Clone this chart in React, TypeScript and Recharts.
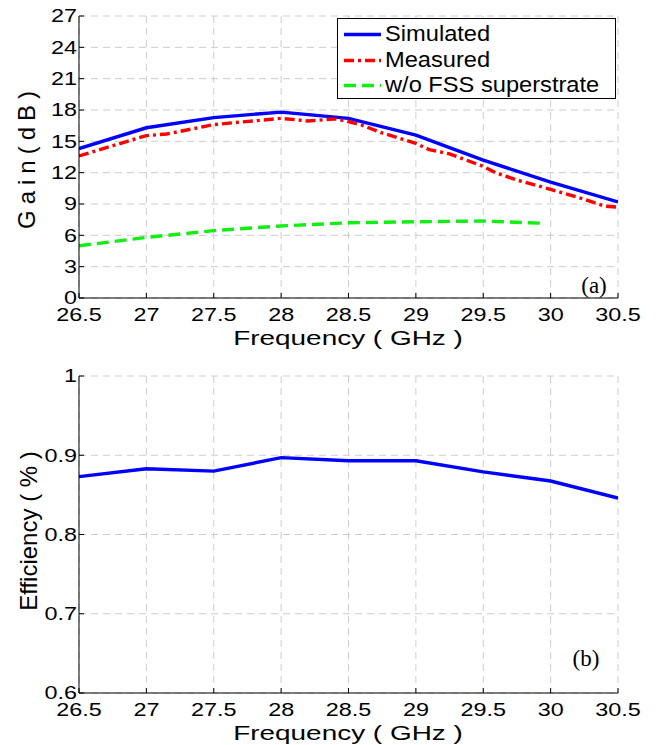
import { CartesianGrid, Line, LineChart, XAxis, YAxis } from "recharts";

const FONT = '"Liberation Sans", Arial, Helvetica, sans-serif';
const SERIF = '"Liberation Serif", "Times New Roman", serif';
const STRETCH = 1.3; // the source figure is stretched sideways

// shared x axis
const freqTicks = [26.5, 27, 27.5, 28, 28.5, 29, 29.5, 30, 30.5];

// (a) gain
const gainTicks = [0, 3, 6, 9, 12, 15, 18, 21, 24, 27];
const simulatedGain = [14.3, 16.3, 17.27, 17.8, 17.2, 15.6, 13.2, 11.1, 9.2];
const measuredFreqs = [
  26.5, 27, 27.15, 27.5, 28, 28.2, 28.4, 28.5, 28.6, 28.75, 28.9, 29, 29.1,
  29.25, 29.5, 29.6, 29.75, 30, 30.25, 30.4, 30.5,
];
const measuredGain = [
  13.6, 15.55, 15.7, 16.6, 17.2, 16.95, 17.15, 16.9, 16.55, 15.8, 15.2, 14.8,
  14.2, 13.8, 12.6, 11.95, 11.3, 10.4, 9.45, 8.8, 8.7,
];
const noFssFreqs = [26.5, 27, 27.5, 28, 28.5, 29, 29.5, 29.95];
const noFssGain = [5.0, 5.8, 6.45, 6.9, 7.2, 7.3, 7.37, 7.15];

// (b) efficiency
const effTicks = [0.6, 0.7, 0.8, 0.9, 1];
const efficiency = [0.873, 0.883, 0.88, 0.897, 0.893, 0.893, 0.879, 0.8675, 0.846];

const simData = freqTicks.map((f, i) => ({ f, v: simulatedGain[i] }));
const measData = measuredFreqs.map((f, i) => ({ f, v: measuredGain[i] }));
const noFssData = noFssFreqs.map((f, i) => ({ f, v: noFssGain[i] }));
const effData = freqTicks.map((f, i) => ({ f, v: efficiency[i] }));

function XTick(props: any) {
  const { x, y, payload } = props;
  return (
    <g transform={`translate(${x},${y})`}>
      <text
        transform={`scale(${STRETCH},1)`}
        textAnchor="middle"
        dy="0.72em"
        fontSize={18}
        fontFamily={FONT}
        fill="#000"
      >
        {payload.value}
      </text>
    </g>
  );
}

function YTick(props: any) {
  const { x, y, payload } = props;
  return (
    <g transform={`translate(${x},${y})`}>
      <text
        transform={`scale(${STRETCH},1)`}
        textAnchor="end"
        dy="0.36em"
        fontSize={18}
        fontFamily={FONT}
        fill="#000"
      >
        {payload.value}
      </text>
    </g>
  );
}

// frame: left/bottom axes with labels, top/right axes with ticks only, all ticks pointing in
function Frame({ yDomain, yTicks }: { yDomain: [number, number]; yTicks: number[] }) {
  return [
    <CartesianGrid key="g" stroke="#cdcdcd" strokeDasharray="7 5" />,
    <XAxis
      key="xb"
      dataKey="f"
      type="number"
      domain={[26.5, 30.5]}
      ticks={freqTicks}
      allowDataOverflow
      stroke="#000"
      tickSize={-5}
      tickMargin={15}
      tick={<XTick />}
      height={52}
    />,
    <XAxis
      key="xt"
      xAxisId="t"
      orientation="top"
      dataKey="f"
      type="number"
      domain={[26.5, 30.5]}
      ticks={freqTicks}
      allowDataOverflow
      stroke="#000"
      tickSize={-5}
      tick={false}
      height={0}
    />,
    <YAxis
      key="yl"
      type="number"
      domain={yDomain}
      ticks={yTicks}
      allowDataOverflow
      stroke="#000"
      tickSize={-5}
      tickMargin={7}
      tick={<YTick />}
      width={79}
    />,
    <YAxis
      key="yr"
      yAxisId="r"
      orientation="right"
      type="number"
      domain={yDomain}
      ticks={yTicks}
      allowDataOverflow
      stroke="#000"
      tickSize={-5}
      tick={false}
      width={0}
    />,
  ];
}

const legendRows = [
  { name: "Simulated", color: "#0000ff", dash: undefined },
  { name: "Measured", color: "#ff0000", dash: "10 4 3 4" },
  { name: "w/o FSS superstrate", color: "#11ee11", dash: "12 6" },
];

function GainLegend() {
  return (
    <div
      style={{
        position: "absolute",
        left: 337,
        top: 18,
        width: 277,
        height: 79,
        border: "1px solid #000",
        background: "#fff",
      }}
    >
      {legendRows.map((r, i) => (
        <div
          key={r.name}
          style={{ position: "absolute", left: 0, top: 3 + i * 25.5, height: 25, display: "flex", alignItems: "center" }}
        >
          <svg width={50} height={25} style={{ display: "block" }}>
            <line x1={6} x2={43} y1={12.5} y2={12.5} stroke={r.color} strokeWidth={3.4} strokeDasharray={r.dash} />
          </svg>
          <span
            style={{
              fontFamily: FONT,
              fontSize: 21.5,
              color: "#000",
              whiteSpace: "nowrap",
              display: "inline-block",
              transform: "scaleX(1.1)",
              transformOrigin: "left center",
              marginLeft: -3,
            }}
          >
            {r.name}
          </span>
        </div>
      ))}
    </div>
  );
}

function Title({ text, left, top, rotate, size, spacing = 0, stretch = 1 }: any) {
  return (
    <div
      style={{
        position: "absolute",
        left,
        top,
        transform: `translate(-50%,-50%) rotate(${rotate || 0}deg) scaleX(${stretch})`,
        fontFamily: FONT,
        fontSize: size,
        letterSpacing: spacing,
        whiteSpace: "nowrap",
        color: "#000",
        lineHeight: 1,
      }}
    >
      {text}
    </div>
  );
}

function Tag({ text, left, top }: { text: string; left: number; top: number }) {
  return (
    <div
      style={{
        position: "absolute",
        left,
        top,
        transform: "translate(-50%,-50%)",
        fontFamily: SERIF,
        fontSize: 23,
        color: "#000",
        lineHeight: 1,
      }}
    >
      {text}
    </div>
  );
}

export default function App() {
  return (
    <div style={{ position: "absolute", left: 0, top: 0, width: 658, height: 745, background: "#fff" }}>
      <div style={{ position: "absolute", left: 0, top: 0 }}>
        <LineChart width={658} height={350} margin={{ top: 16, right: 40, left: 0, bottom: 0 }}>
          {Frame({ yDomain: [0, 27], yTicks: gainTicks })}
          <Line data={simData} dataKey="v" type="linear" stroke="#0000ff" strokeWidth={3.4} dot={false} isAnimationActive={false} />
          <Line data={measData} dataKey="v" type="linear" stroke="#ff0000" strokeWidth={3.4} strokeDasharray="10 4 3 4" dot={false} isAnimationActive={false} />
          <Line data={noFssData} dataKey="v" type="linear" stroke="#11ee11" strokeWidth={3.4} strokeDasharray="12 6" dot={false} isAnimationActive={false} />
        </LineChart>
      </div>
      <div style={{ position: "absolute", left: 0, top: 360 }}>
        <LineChart width={658} height={385} margin={{ top: 16, right: 40, left: 0, bottom: 0 }}>
          {Frame({ yDomain: [0.6, 1], yTicks: effTicks })}
          <Line data={effData} dataKey="v" type="linear" stroke="#0000ff" strokeWidth={3.4} dot={false} isAnimationActive={false} />
        </LineChart>
      </div>
      <GainLegend />
      <Title text="Gain(dB)" left={27} top={157} rotate={-90} size={24} spacing={6} />
      <Title text="Frequency ( GHz )" left={348} top={337} size={21} stretch={1.33} />
      <Title text="Efficiency ( % )" left={29} top={531} rotate={-90} size={24} />
      <Title text="Frequency ( GHz )" left={348} top={732} size={21} stretch={1.33} />
      <Tag text="(a)" left={594} top={285} />
      <Tag text="(b)" left={586} top={658} />
    </div>
  );
}
